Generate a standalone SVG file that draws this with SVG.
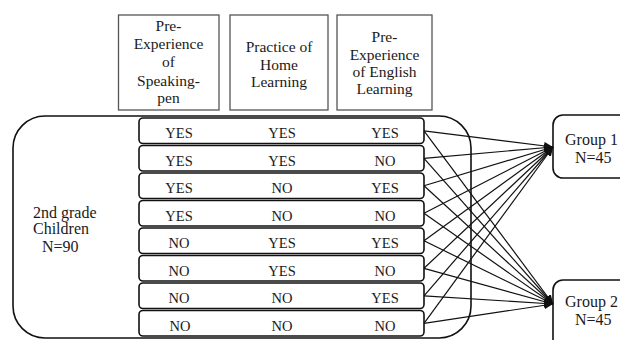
<svg xmlns="http://www.w3.org/2000/svg" width="620" height="340" viewBox="0 0 620 340">
<style>
text{font-family:"Liberation Serif","Times New Roman",serif;fill:#1a1a1a}
.h{font-size:15.5px;text-anchor:middle}
.t{font-size:14.5px;text-anchor:middle}
.l{font-size:16px}
.hb{fill:#fff;stroke:#555;stroke-width:1.3}
.rb{fill:#fff;stroke:#111;stroke-width:1.6}
.big{fill:#fff;stroke:#111;stroke-width:1.6}
.c line{stroke:#111;stroke-width:1.2;marker-end:url(#ah)}
</style>
<defs>
<marker id="ah" markerUnits="userSpaceOnUse" markerWidth="9" markerHeight="8" refX="9" refY="4" orient="auto">
<path d="M0,0 L9,4 L0,8 Z" fill="#111"/>
</marker>
</defs>
<rect width="620" height="340" fill="#fff"/>

<g id="h1"><rect class="hb" x="118.5" y="15" width="100.5" height="95"/>
<text class="h" x="168.5" y="31">Pre-</text>
<text class="h" x="168.5" y="49">Experience</text>
<text class="h" x="168.5" y="67">of</text>
<text class="h" x="168.5" y="85.5">Speaking-</text>
<text class="h" x="168.5" y="103">pen</text></g>

<g id="h2"><rect class="hb" x="230" y="15" width="98" height="95"/>
<text class="h" x="279" y="52">Practice of</text>
<text class="h" x="279" y="70">Home</text>
<text class="h" x="279" y="87">Learning</text></g>

<g id="h3"><rect class="hb" x="337" y="15" width="95" height="95"/>
<text class="h" x="384.5" y="42">Pre-</text>
<text class="h" x="384.5" y="59.5">Experience</text>
<text class="h" x="384.5" y="77">of English</text>
<text class="h" x="384.5" y="93.5">Learning</text></g>

<g id="children"><rect class="big" x="13" y="116" width="458" height="222" rx="32" ry="32"/>
<text class="l" x="33" y="217.5">2nd grade</text>
<text class="l" x="33" y="234">Children</text>
<text class="l" x="42" y="251.5">N=90</text></g>

<g id="r1"><rect class="rb" x="139" y="118" width="285" height="25.5" rx="4"/>
<text class="t" x="179" y="138">YES</text><text class="t" x="282" y="138">YES</text><text class="t" x="385" y="138">YES</text></g>
<g id="r2"><rect class="rb" x="139" y="145.5" width="285" height="25.5" rx="4"/>
<text class="t" x="179" y="165.5">YES</text><text class="t" x="282" y="165.5">YES</text><text class="t" x="385" y="165.5">NO</text></g>
<g id="r3"><rect class="rb" x="139" y="173" width="285" height="25.5" rx="4"/>
<text class="t" x="179" y="193">YES</text><text class="t" x="282" y="193">NO</text><text class="t" x="385" y="193">YES</text></g>
<g id="r4"><rect class="rb" x="139" y="200.5" width="285" height="25.5" rx="4"/>
<text class="t" x="179" y="220.5">YES</text><text class="t" x="282" y="220.5">NO</text><text class="t" x="385" y="220.5">NO</text></g>
<g id="r5"><rect class="rb" x="139" y="228" width="285" height="25.5" rx="4"/>
<text class="t" x="179" y="248">NO</text><text class="t" x="282" y="248">YES</text><text class="t" x="385" y="248">YES</text></g>
<g id="r6"><rect class="rb" x="139" y="255.5" width="285" height="25.5" rx="4"/>
<text class="t" x="179" y="275.5">NO</text><text class="t" x="282" y="275.5">YES</text><text class="t" x="385" y="275.5">NO</text></g>
<g id="r7"><rect class="rb" x="139" y="283" width="285" height="25.5" rx="4"/>
<text class="t" x="179" y="303">NO</text><text class="t" x="282" y="303">NO</text><text class="t" x="385" y="303">YES</text></g>
<g id="r8"><rect class="rb" x="139" y="310.5" width="285" height="25.5" rx="4"/>
<text class="t" x="180" y="330.5">NO</text><text class="t" x="282" y="330.5">NO</text><text class="t" x="385" y="330.5">NO</text></g>

<g id="g1"><rect class="rb" x="553" y="115" width="90" height="63" rx="10"/>
<text class="l" x="565" y="145">Group 1</text>
<text class="l" x="575" y="163">N=45</text></g>
<g id="g2"><rect class="rb" x="553" y="280" width="90" height="80" rx="10"/>
<text class="l" x="565" y="307">Group 2</text>
<text class="l" x="575" y="325">N=45</text></g>

<g class="c" id="connectors">
<line x1="424" y1="130.8" x2="553" y2="147"/>
<line x1="424" y1="158.3" x2="553" y2="147"/>
<line x1="424" y1="185.8" x2="553" y2="147"/>
<line x1="424" y1="213.3" x2="553" y2="147"/>
<line x1="424" y1="240.8" x2="553" y2="147"/>
<line x1="424" y1="268.3" x2="553" y2="147"/>
<line x1="424" y1="295.8" x2="553" y2="147"/>
<line x1="424" y1="323.3" x2="553" y2="147"/>
<line x1="424" y1="130.8" x2="553" y2="304"/>
<line x1="424" y1="158.3" x2="553" y2="304"/>
<line x1="424" y1="185.8" x2="553" y2="304"/>
<line x1="424" y1="213.3" x2="553" y2="304"/>
<line x1="424" y1="240.8" x2="553" y2="304"/>
<line x1="424" y1="268.3" x2="553" y2="304"/>
<line x1="424" y1="295.8" x2="553" y2="304"/>
<line x1="424" y1="323.3" x2="553" y2="304"/>
</g>
</svg>
